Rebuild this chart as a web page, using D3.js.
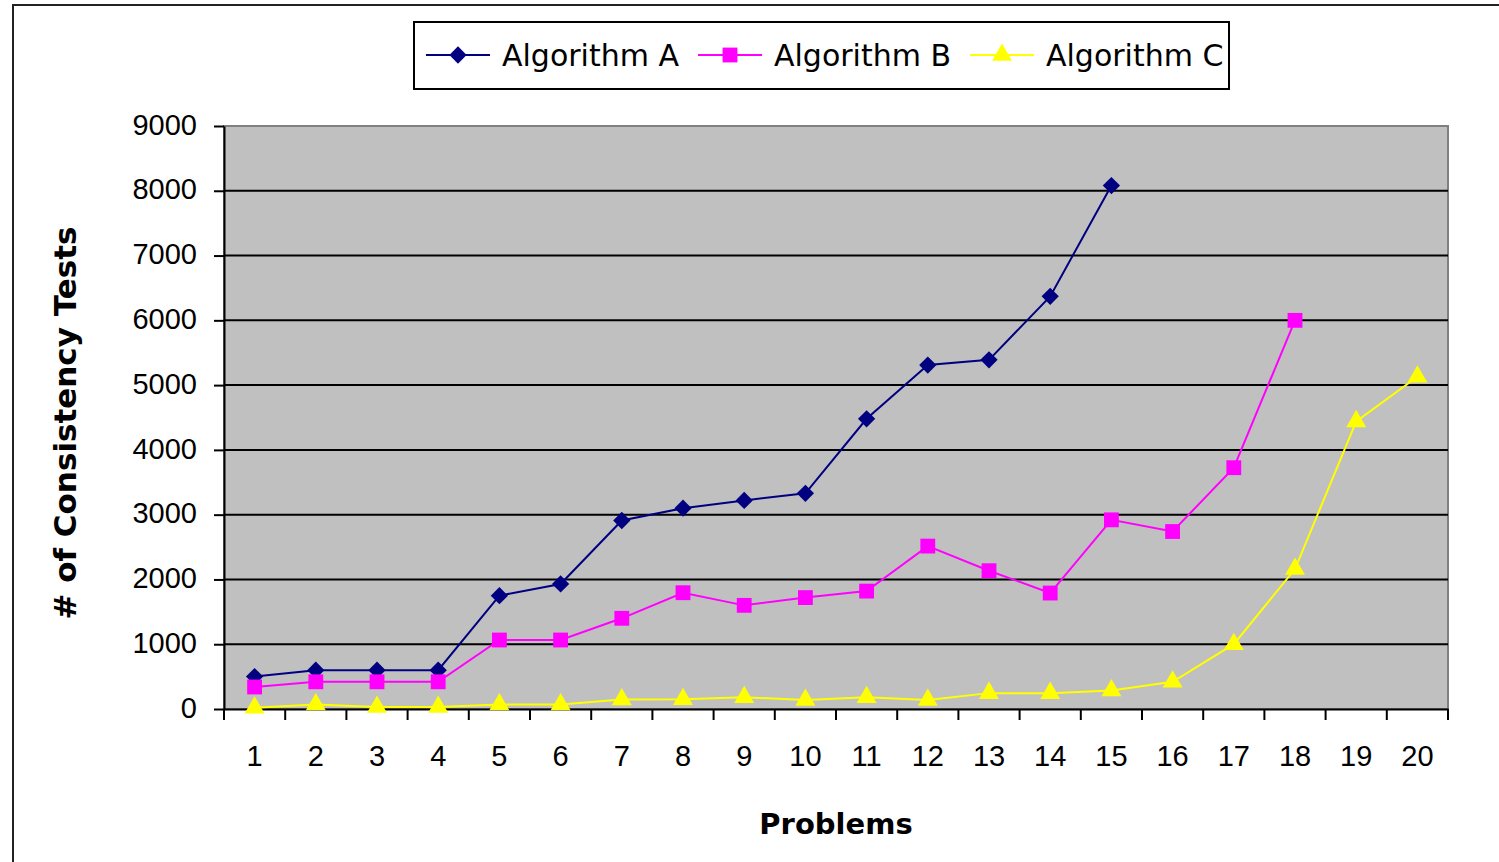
<!DOCTYPE html>
<html><head><meta charset="utf-8">
<script src="https://cdn.jsdelivr.net/npm/d3@7"></script>
<style>html,body{margin:0;padding:0;background:#fff;overflow:hidden}</style>
</head><body>
<svg id="chart" width="1499" height="862"></svg>
<script>
const categories = ["1","2","3","4","5","6","7","8","9","10","11","12","13","14","15","16","17","18","19","20"];
const seriesNames = ["Algorithm A","Algorithm B","Algorithm C"];
const algorithmA = [500,600,600,600,1750,1930,2910,3100,3220,3330,4480,5310,5390,6370,8080];
const algorithmB = [340,420,420,420,1065,1065,1400,1795,1600,1720,1820,2515,2135,1790,2920,2740,3725,6000];
const algorithmC = [20,70,30,30,70,70,145,150,180,140,180,140,245,245,285,420,1000,2160,4440,5130];
const yTicks = [0,1000,2000,3000,4000,5000,6000,7000,8000,9000];
const colors = ["#000080","#FF00FF","#FFFF00"];
const symbols = [d3.symbolDiamond2, d3.symbolSquare2, d3.symbolTriangle2];

const svg = d3.select("#chart");
const L = 224, R = 1448, T = 126, B = 709;
const x = d3.scaleBand().domain(categories).range([L, R]).padding(0);
const y = d3.scaleLinear().domain([0, 9000]).range([B, T]);
const font = "'DejaVu Sans', Verdana, sans-serif";
const tickFont = "'Liberation Sans', Arial, sans-serif";

// outer frame
svg.append("rect").attr("x", 13).attr("y", 5).attr("width", 1600).attr("height", 1000)
  .attr("fill", "none").attr("stroke", "#222").attr("stroke-width", 2);

// plot area
svg.append("rect").attr("x", L).attr("y", T).attr("width", R - L).attr("height", B - T)
  .attr("fill", "#C0C0C0").attr("stroke", "#808080").attr("stroke-width", 2);

// gridlines
svg.append("g").selectAll("line").data(yTicks.filter(v => v > 0 && v < 9000)).join("line")
  .attr("x1", L).attr("x2", R).attr("y1", d => y(d)).attr("y2", d => y(d))
  .attr("stroke", "#000").attr("stroke-width", 2);

// y axis
const yAxis = svg.append("g").attr("transform", `translate(${L},0)`)
  .call(d3.axisLeft(y).tickValues(yTicks).tickFormat(d3.format("d"))
    .tickSize(10).tickPadding(17).tickSizeOuter(0));
yAxis.select(".domain").attr("stroke", "#000").attr("stroke-width", 2);
yAxis.selectAll(".tick line").attr("stroke", "#000").attr("stroke-width", 2);
yAxis.selectAll("text").attr("font-family", tickFont).attr("font-size", 29).attr("fill", "#000")
  .attr("dy", "0.28em");

// x axis
const xAxis = svg.append("g").attr("transform", `translate(0,${B})`)
  .call(d3.axisBottom(x).tickSize(0).tickPadding(36).tickSizeOuter(0));
xAxis.select(".domain").attr("stroke", "#000").attr("stroke-width", 2);
xAxis.selectAll("text").attr("font-family", tickFont).attr("font-size", 29).attr("fill", "#000");
// tick marks between categories
const bounds = categories.map(c => x(c)).concat([x(categories[categories.length - 1]) + x.bandwidth()]);
svg.append("g").selectAll("line").data(bounds).join("line")
  .attr("x1", d => d).attr("x2", d => d).attr("y1", B).attr("y2", B + 11)
  .attr("stroke", "#000").attr("stroke-width", 2);

// series
const allSeries = [algorithmA, algorithmB, algorithmC];
const line = d3.line().x((d, i) => x(categories[i]) + x.bandwidth() / 2).y(d => y(d));
const markerSizes = [190, 280, 285];
allSeries.forEach((data, s) => {
  const g = svg.append("g");
  g.append("path").datum(data).attr("d", line).attr("fill", "none")
    .attr("stroke", colors[s]).attr("stroke-width", 2);
  g.selectAll("path.m").data(data).join("path").attr("class", "m")
    .attr("transform", (d, i) => `translate(${x(categories[i]) + x.bandwidth() / 2},${y(d)})`)
    .attr("d", d3.symbol().type(symbols[s]).size(markerSizes[s]))
    .attr("fill", colors[s]);
});

// axis titles
svg.append("text").attr("x", (L + R) / 2).attr("y", 834).attr("text-anchor", "middle")
  .attr("font-family", font).attr("font-weight", "bold").attr("font-size", 29).text("Problems");
svg.append("text").attr("transform", "translate(76,423) rotate(-90)").attr("text-anchor", "middle")
  .attr("font-family", font).attr("font-weight", "bold").attr("font-size", 31).text("# of Consistency Tests");

// legend
const lg = svg.append("g");
lg.append("rect").attr("x", 414).attr("y", 22).attr("width", 815).attr("height", 67)
  .attr("fill", "#fff").attr("stroke", "#000").attr("stroke-width", 2);
const legendX = [426, 698, 970];
seriesNames.forEach((name, s) => {
  const gx = legendX[s];
  lg.append("line").attr("x1", gx).attr("x2", gx + 64).attr("y1", 55).attr("y2", 55)
    .attr("stroke", colors[s]).attr("stroke-width", 2);
  lg.append("path").attr("transform", `translate(${gx + 32},55)`)
    .attr("d", d3.symbol().type(symbols[s]).size(markerSizes[s])).attr("fill", colors[s]);
  lg.append("text").attr("x", gx + 76).attr("y", 66).attr("font-family", font)
    .attr("font-size", 30).attr("fill", "#000").text(name);
});
</script>
</body></html>
